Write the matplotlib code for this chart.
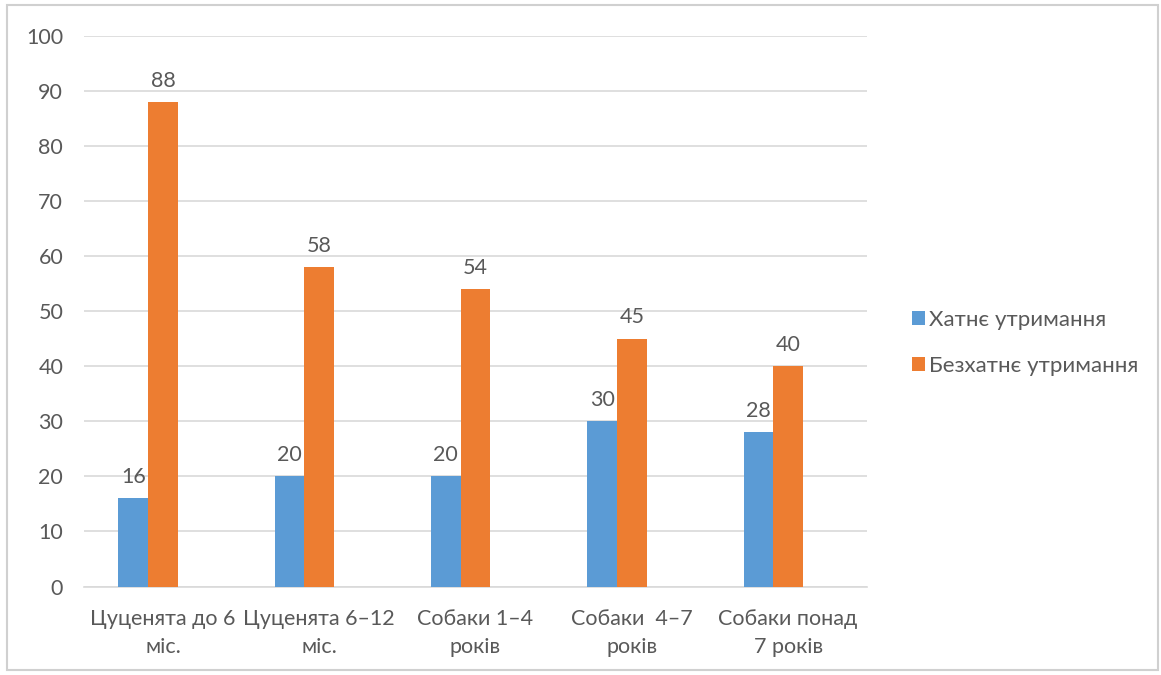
import matplotlib
matplotlib.use("Agg")
import matplotlib.pyplot as plt
import numpy as np
from matplotlib.patches import Rectangle

plt.rcParams['font.family'] = ['Lato', 'DejaVu Sans']

categories = ["Цуценята до 6\nміс.", "Цуценята 6–12\nміс.", "Собаки 1–4\nроків",
              "Собаки  4–7\nроків", "Собаки понад\n7 років"]
indoor = [16, 20, 20, 30, 28]
outdoor = [88, 58, 54, 45, 40]
series_names = ["Хатнє утримання", "Безхатнє утримання"]
y_ticks = [0, 10, 20, 30, 40, 50, 60, 70, 80, 90, 100]

blue = "#5B9BD5"
orange = "#ED7D31"
text_grey = "#595959"
grid_grey = "#D9D9D9"

fig = plt.figure(figsize=(11.61, 6.75), dpi=100)
ax = fig.add_axes([0.0724, 0.1311, 0.6744, 0.8163])

x = np.arange(len(categories))
w = 0.19
b1 = ax.bar(x - w / 2, indoor, w, color=blue, label=series_names[0], zorder=3)
b2 = ax.bar(x + w / 2, outdoor, w, color=orange, label=series_names[1], zorder=3)

for bars, vals in ((b1, indoor), (b2, outdoor)):
    for rect, v in zip(bars, vals):
        ax.annotate(str(v), (rect.get_x() + rect.get_width() / 2, v),
                    xytext=(0, 8), textcoords="offset points",
                    ha="center", va="bottom", fontsize=15.5, color=text_grey)

ax.set_ylim(0, 100)
ax.set_yticks(y_ticks)
ax.set_xlim(-0.41, 4.6)
# category labels sit slightly right of the bar pairs
ax.set_xticks(x + 0.095)
ax.set_xticklabels(categories, linespacing=1.5)
ax.tick_params(axis="both", length=0, colors=text_grey, labelsize=15.5)
ax.tick_params(axis="y", pad=15)
ax.tick_params(axis="x", pad=16)
ax.grid(axis="y", color=grid_grey, linewidth=1.2, zorder=0)
for side in ("left", "right", "top"):
    ax.spines[side].set_visible(False)
ax.spines["bottom"].set_color(grid_grey)
ax.spines["bottom"].set_linewidth(1.2)

leg = fig.legend(handles=[b1, b2], loc="center left",
                 bbox_to_anchor=(0.768, 0.492), frameon=False,
                 fontsize=16, labelcolor=text_grey, handlelength=0.6,
                 handleheight=0.6, handletextpad=0.2, labelspacing=1.2)

fig.patches.append(Rectangle((0.006, 0.007), 0.991, 0.985, transform=fig.transFigure,
                             fill=False, edgecolor="#D0D0D0", linewidth=1.5))

fig.savefig("out.png", dpi=100, facecolor="white")
